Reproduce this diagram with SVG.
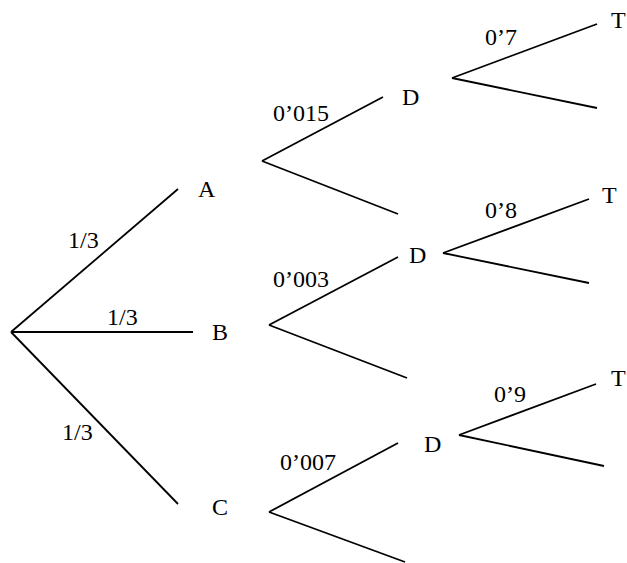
<svg xmlns="http://www.w3.org/2000/svg" width="627" height="563" viewBox="0 0 627 563">
<style>
text{font-family:"Liberation Serif","Times New Roman",serif;font-size:24px;fill:#000}
line{stroke:#000;stroke-width:1.8;stroke-linecap:butt}
</style>
<rect width="627" height="563" fill="#fff"/>
<g id="connectors">
<line x1="11" y1="332" x2="178" y2="189"/>
<line x1="11" y1="332" x2="193" y2="332"/>
<line x1="11" y1="332" x2="178" y2="504"/>
<line x1="262" y1="161" x2="383" y2="97"/>
<line x1="262" y1="161" x2="398" y2="214"/>
<line x1="269" y1="325" x2="398" y2="257"/>
<line x1="269" y1="325" x2="407" y2="378"/>
<line x1="269" y1="512" x2="398" y2="443"/>
<line x1="269" y1="512" x2="405" y2="562"/>
<line x1="452" y1="78" x2="597" y2="24"/>
<line x1="452" y1="78" x2="597" y2="108"/>
<line x1="443" y1="253" x2="589" y2="199"/>
<line x1="443" y1="253" x2="589" y2="283"/>
<line x1="459" y1="435" x2="596" y2="384"/>
<line x1="459" y1="435" x2="604" y2="466"/>
<text x="68" y="248">1/3</text>
<text x="107" y="325">1/3</text>
<text x="62" y="440">1/3</text>
<text x="273" y="121">0’015</text>
<text x="273" y="287">0’003</text>
<text x="280" y="470">0’007</text>
<text x="485" y="45">0’7</text>
<text x="485" y="218">0’8</text>
<text x="494" y="402">0’9</text>
</g>
<g id="node-A"><text x="198" y="197">A</text></g>
<g id="node-B"><text x="212" y="340">B</text></g>
<g id="node-C"><text x="212" y="515">C</text></g>
<g id="node-DA"><text x="402" y="105">D</text></g>
<g id="node-DB"><text x="409" y="263">D</text></g>
<g id="node-DC"><text x="424" y="452">D</text></g>
<g id="node-TA"><text x="611" y="28">T</text></g>
<g id="node-TB"><text x="602" y="203">T</text></g>
<g id="node-TC"><text x="611" y="386">T</text></g>
</svg>
